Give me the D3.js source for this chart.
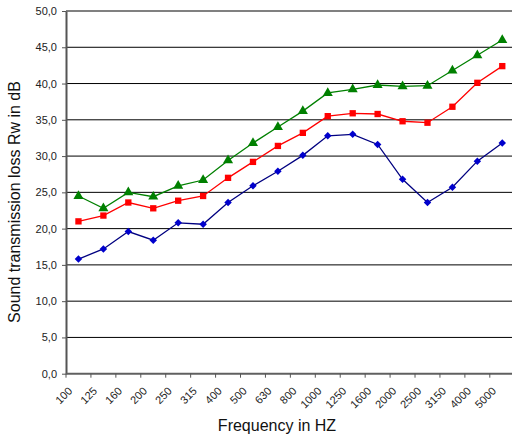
<!DOCTYPE html>
<html>
<head>
<meta charset="utf-8">
<script src="https://cdn.jsdelivr.net/npm/d3@7"></script>
<style>
  body { margin: 0; background: #fff; }
  svg { display: block; font-family: "Liberation Sans", Arial, sans-serif; }
</style>
</head>
<body>
<div id="wrapper"></div>
<script>
const frequencies = ["100", "125", "160", "200", "250", "315", "400", "500", "630", "800",
    "1000", "1250", "1600", "2000", "2500", "3150", "4000", "5000"];
const blueValues = [15.8, 17.2, 19.6, 18.4, 20.8, 20.6, 23.6, 25.9, 27.9, 30.1,
    32.8, 33.0, 31.6, 26.8, 23.6, 25.7, 29.3, 31.8];
const redValues = [21.0, 21.8, 23.6, 22.8, 23.85, 24.5, 27.0, 29.2, 31.4, 33.2,
    35.5, 35.9, 35.8, 34.8, 34.6, 36.8, 40.1, 42.4];
const greenValues = [24.5, 22.8, 25.0, 24.4, 25.9, 26.7, 29.4, 31.8, 34.0, 36.2,
    38.7, 39.2, 39.8, 39.6, 39.7, 41.8, 43.9, 46.0];
const yTicks = [0, 5, 10, 15, 20, 25, 30, 35, 40, 45, 50];

const width = 512;
const height = 438;
const margin = { top: 11, left: 66, bottom: 64.3 };
const plotWidth = 18 * 24.93;

const svg = d3.select("#wrapper")
    .append("svg")
    .attr("width", width)
    .attr("height", height);

const xScale = d3.scaleBand()
    .domain(frequencies)
    .range([margin.left, margin.left + plotWidth])
    .padding(0);

const yScale = d3.scaleLinear()
    .domain([0, 50])
    .range([height - margin.bottom, margin.top]);

const fmt = d => d.toFixed(1).replace(".", ",");

// gridlines
svg.append("g")
    .selectAll("line")
    .data(yTicks.filter(d => d > 0))
    .join("line")
    .attr("x1", margin.left)
    .attr("x2", margin.left + plotWidth)
    .attr("y1", d => yScale(d))
    .attr("y2", d => yScale(d))
    .attr("stroke", d => d === 50 ? "#808080" : "#000")
    .attr("stroke-width", d => d === 50 ? 2 : 1);

// y axis
const yAxis = svg.append("g")
    .attr("transform", `translate(${margin.left},0)`)
    .call(d3.axisLeft(yScale).tickValues(yTicks).tickFormat(fmt).tickSize(4).tickSizeOuter(0));
yAxis.select(".domain").attr("stroke", "#555").attr("stroke-width", 2);
yAxis.selectAll(".tick line").attr("stroke", "#555");
yAxis.selectAll(".tick text")
    .attr("x", -9)
    .attr("font-size", 11)
    .attr("font-family", "Liberation Sans, Arial, sans-serif")
    .attr("fill", "#222");

// x axis
const xAxis = svg.append("g")
    .attr("transform", `translate(0,${yScale(0)})`);
xAxis.append("line")
    .attr("x1", margin.left)
    .attr("x2", margin.left + plotWidth)
    .attr("stroke", "#606060")
    .attr("stroke-width", 2);
xAxis.selectAll(".xtick")
    .data(frequencies)
    .join("line")
    .attr("class", "xtick")
    .attr("x1", d => xScale(d))
    .attr("x2", d => xScale(d))
    .attr("y1", 0)
    .attr("y2", 4)
    .attr("stroke", "#555");
xAxis.selectAll(".xlabel")
    .data(frequencies)
    .join("text")
    .attr("class", "xlabel")
    .attr("text-anchor", "end")
    .attr("font-size", 11)
    .attr("fill", "#222")
    .attr("transform", d => `translate(${xScale(d) + xScale.bandwidth() / 2 - 5.5},18) rotate(-45)`)
    .text(d => d);

// axis titles
svg.append("text")
    .attr("x", 277)
    .attr("y", 431)
    .attr("text-anchor", "middle")
    .attr("font-size", 16)
    .attr("fill", "#111")
    .text("Frequency in HZ");

svg.append("text")
    .attr("transform", "translate(20,202) rotate(-90)")
    .attr("text-anchor", "middle")
    .attr("font-size", 16)
    .attr("fill", "#111")
    .text("Sound transmission loss Rw in dB");

// series (diamond = square turned 45 degrees, like the spreadsheet marker)
const series = [
    { values: blueValues, line: "#000080", fill: "#0000CC", symbol: d3.symbolSquare, size: 28, rotate: 45 },
    { values: redValues, line: "#FF0000", fill: "#FF0000", symbol: d3.symbolSquare, size: 40, rotate: 0 },
    { values: greenValues, line: "#008000", fill: "#008000", symbol: d3.symbolTriangle, size: 44, rotate: 0 },
];

const lineGenerator = d3.line()
    .x((d, i) => xScale(frequencies[i]) + xScale.bandwidth() / 2)
    .y(d => yScale(d));

series.forEach(s => {
    svg.append("path")
        .attr("d", lineGenerator(s.values))
        .attr("fill", "none")
        .attr("stroke", s.line)
        .attr("stroke-width", 1.3);

    svg.append("g")
        .selectAll("path")
        .data(s.values)
        .join("path")
        .attr("d", d3.symbol().type(s.symbol).size(s.size))
        .attr("transform", (d, i) => `translate(${xScale(frequencies[i]) + xScale.bandwidth() / 2},${yScale(d)}) rotate(${s.rotate})`)
        .attr("fill", s.fill);
});
</script>
</body>
</html>
